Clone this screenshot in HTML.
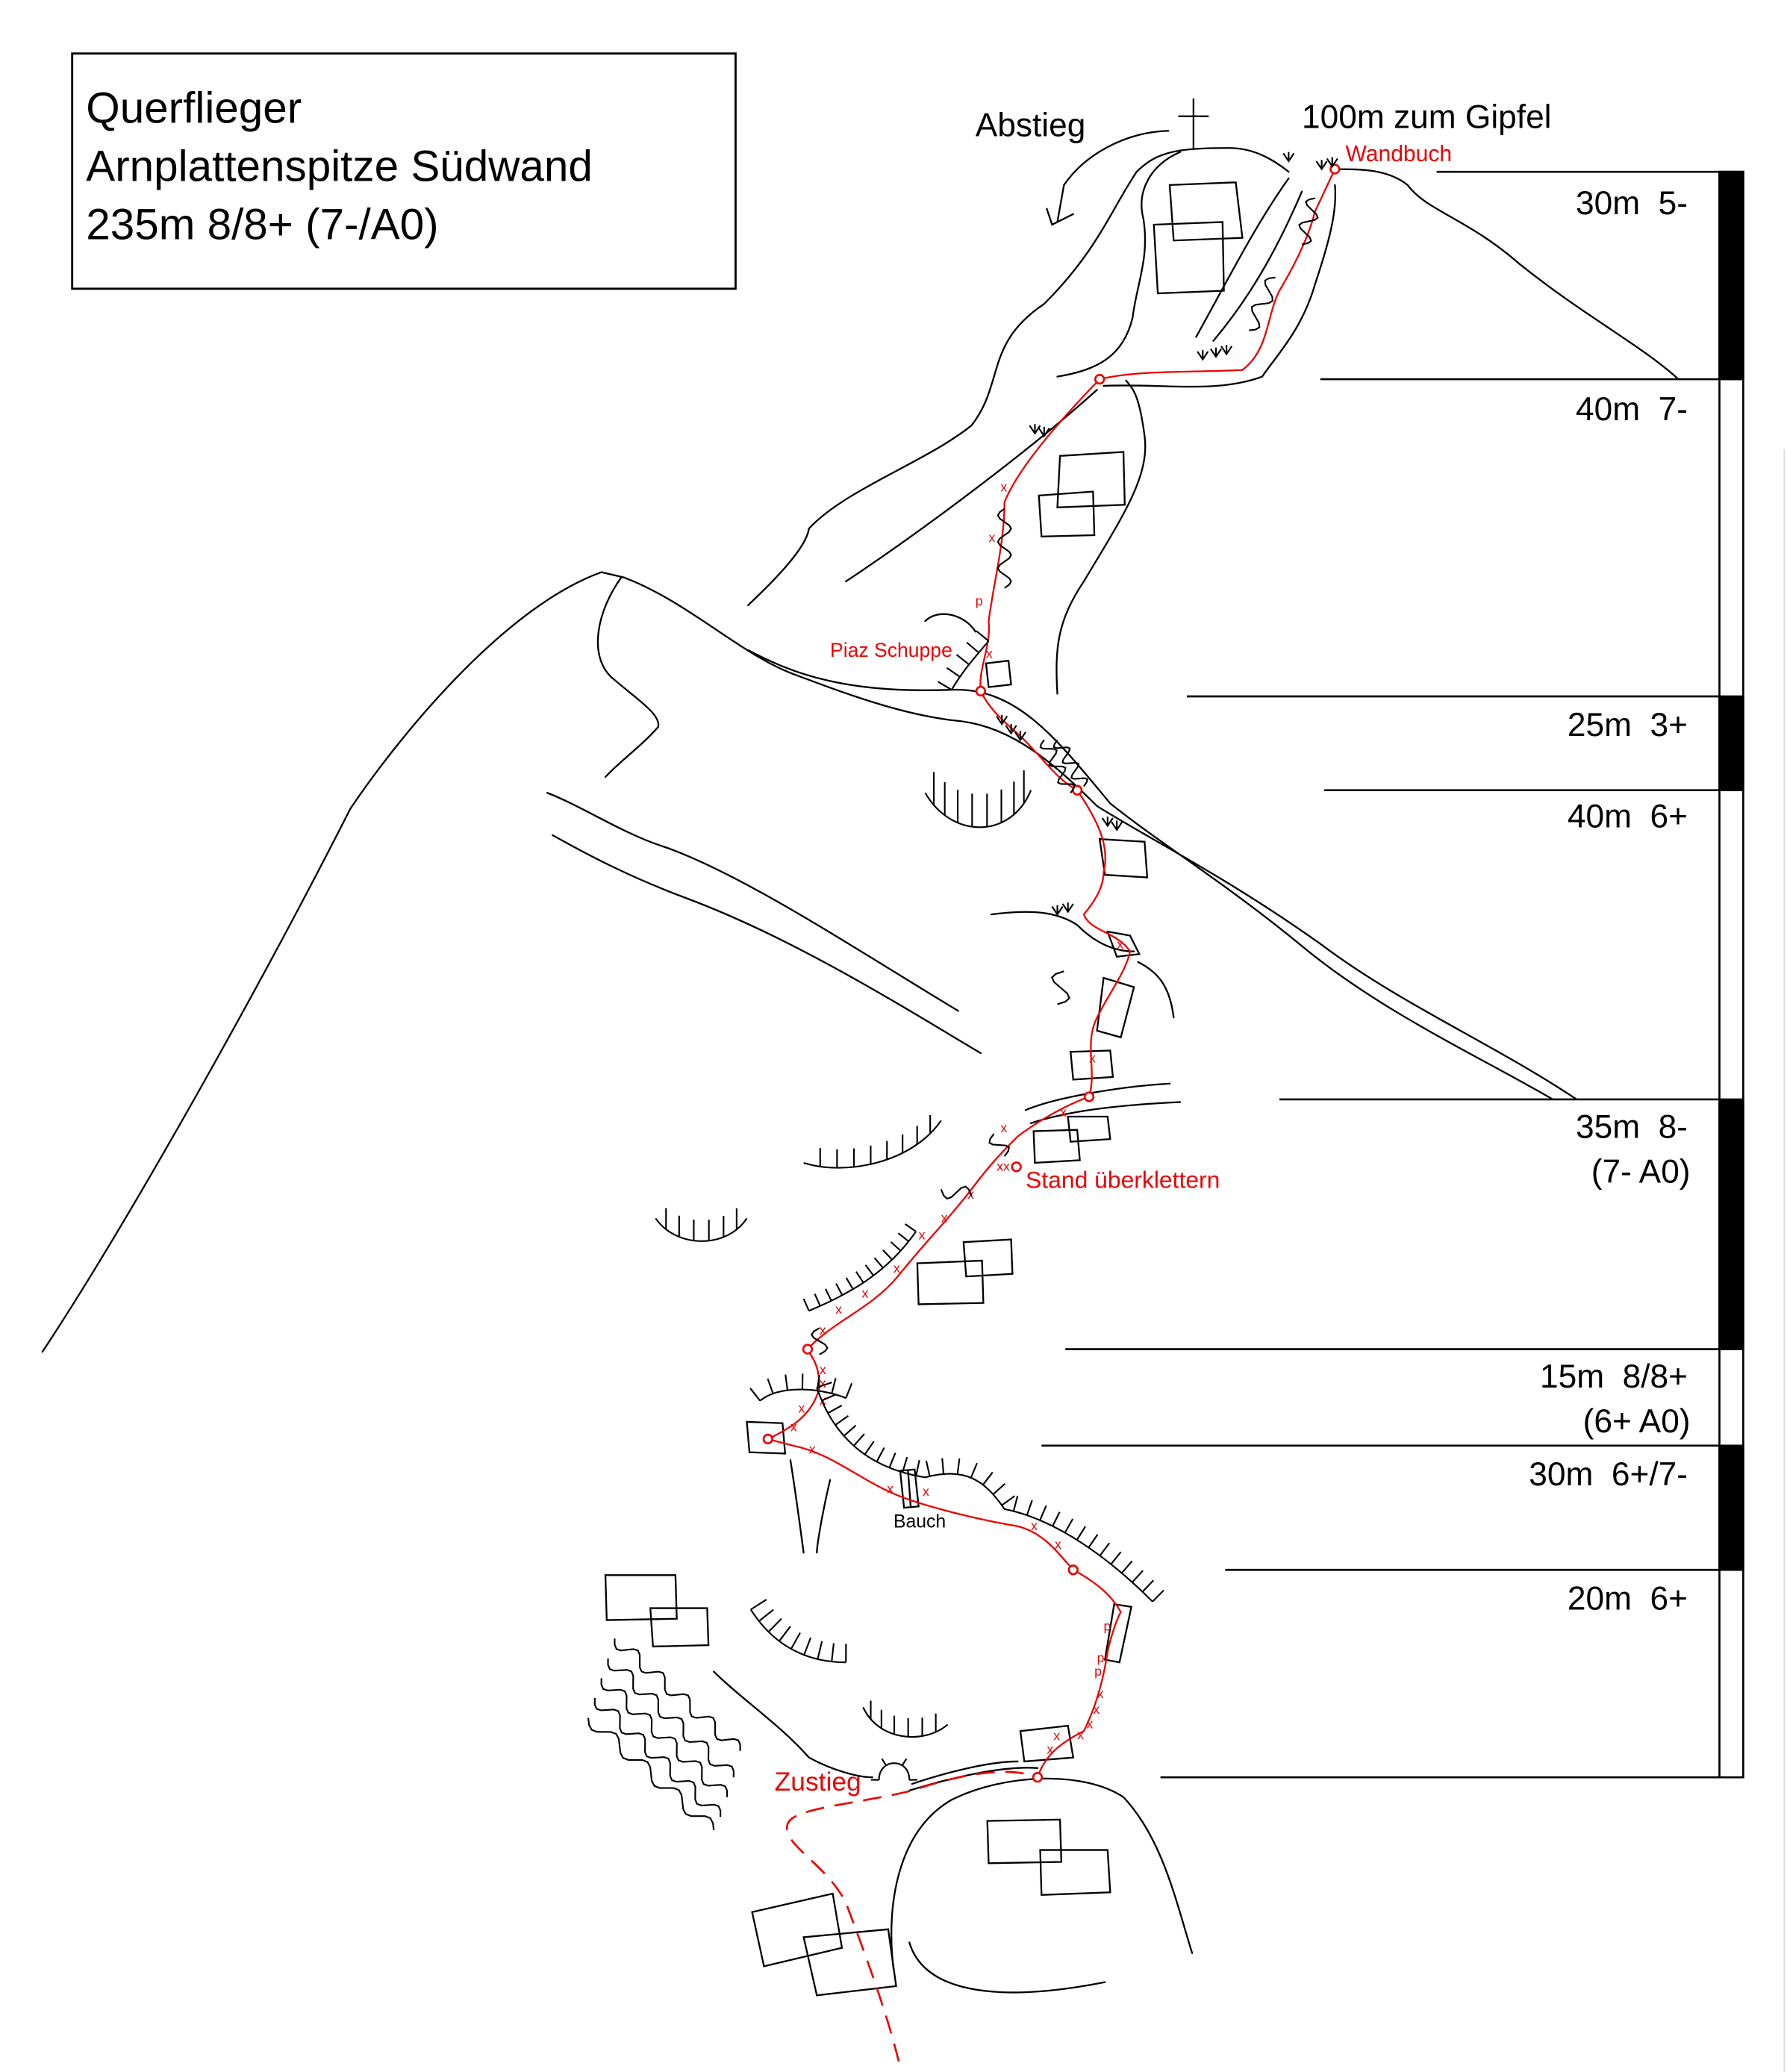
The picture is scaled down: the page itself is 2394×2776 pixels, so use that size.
<!DOCTYPE html>
<html><head><meta charset="utf-8">
<style>
html,body{margin:0;padding:0;background:#fff;}
svg{display:block;}
text{font-family:"Liberation Sans",sans-serif;white-space:pre;}
</style></head>
<body>
<svg id="s" width="2394" height="2776" viewBox="0 0 1352 1568" xmlns="http://www.w3.org/2000/svg" xml:space="preserve">
<rect width="1352" height="1568" fill="#fff"/>
<line x1="1350" y1="340" x2="1350" y2="1568" stroke="#ddd" stroke-width="1"/>
<rect x="54.5" y="40.5" width="502" height="178" fill="none" stroke="#000" stroke-width="1.6"/>
<text x="65" y="93" font-size="33">Querflieger</text>
<text x="65" y="137" font-size="33">Arnplattenspitze Südwand</text>
<text x="65" y="181" font-size="33">235m 8/8+ (7-/A0)</text>

<g stroke="#000" stroke-width="1.5">
<rect x="1301" y="130" width="18" height="1215" fill="#fff"/>
<rect x="1301" y="130" width="18" height="157" fill="#000"/>
<rect x="1301" y="527" width="18" height="71" fill="#000"/>
<rect x="1301" y="832" width="18" height="189" fill="#000"/>
<rect x="1301" y="1094" width="18" height="94" fill="#000"/>
<line x1="1087" y1="130" x2="1301" y2="130"/>
<line x1="999" y1="287" x2="1301" y2="287"/>
<line x1="898" y1="527" x2="1301" y2="527"/>
<line x1="1002" y1="598" x2="1301" y2="598"/>
<line x1="968" y1="832" x2="1301" y2="832"/>
<line x1="806" y1="1021" x2="1301" y2="1021"/>
<line x1="788" y1="1094" x2="1301" y2="1094"/>
<line x1="927" y1="1188" x2="1301" y2="1188"/>
<line x1="878" y1="1345" x2="1301" y2="1345"/>
</g>
<g font-size="25" text-anchor="end">
<text x="1277" y="162">30m  5-</text>
<text x="1277" y="318">40m  7-</text>
<text x="1277" y="557">25m  3+</text>
<text x="1277" y="626">40m  6+</text>
<text x="1277" y="861">35m  8-</text>
<text x="1279" y="895">(7- A0)</text>
<text x="1277" y="1050">15m  8/8+</text>
<text x="1279" y="1084">(6+ A0)</text>
<text x="1277" y="1124">30m  6+/7-</text>
<text x="1277" y="1218">20m  6+</text>
</g>
<text x="738" y="103" font-size="25">Abstieg</text>
<text x="985" y="97" font-size="25">100m zum Gipfel</text>
<text x="1018" y="122" font-size="17" fill="#e00">Wandbuch</text>
<text x="628" y="497" font-size="15" fill="#e00">Piaz Schuppe</text>
<text x="776" y="899" font-size="18" fill="#e00">Stand überklettern</text>
<text x="586" y="1355" font-size="20" fill="#e00">Zustieg</text>
<text x="676" y="1156" font-size="14">Bauch</text>

<g id="lines" fill="none" stroke="#000" stroke-width="1.3" stroke-linecap="round">
<path d="M32,1023 C100,920 200,740 265,612 C300,560 380,460 455,433 L472,437"/>
<path d="M470,437 C452,462 445,495 462,512 C480,528 500,540 498,550 C485,565 470,575 458,588"/>
<path d="M472,437 C520,455 560,495 600,510 C640,525 680,540 720,545 C760,548 790,570 830,610 C870,635 930,665 1000,715 C1060,760 1130,790 1193,832"/>
<path d="M566,492 C600,510 640,525 720,522 C770,520 800,560 840,608 C880,640 930,670 990,720 C1050,768 1120,800 1175,832"/>
<path d="M414,600 C440,610 470,630 500,640 C560,660 650,720 725,765"/>
<path d="M418,632 C450,650 480,665 520,680 C600,710 680,760 742,797"/>
<path d="M566,458 C585,440 610,415 612,400 C640,370 700,350 735,322 C760,290 745,260 790,230 C830,190 840,160 860,130 C875,115 890,112 930,112 C950,112 965,122 975,130"/>
<path d="M640,440 C700,400 780,340 830,295"/>
<path d="M800,525 C798,490 800,470 820,440 C850,390 870,360 866,330 C862,300 858,295 852,288"/>
<path d="M835,292 C880,290 920,298 955,285 C965,270 985,250 995,215 C1005,185 1012,160 1010,140"/>
<path d="M1010,128 C1030,128 1050,128 1065,140 C1080,160 1110,165 1150,200 C1200,240 1240,260 1270,287"/>
<path d="M893,115 C870,125 860,145 865,165 C870,195 860,215 857,240 C850,270 830,280 800,285"/>
<path d="M975,135 C950,170 930,210 905,255"/>
<path d="M985,145 C970,180 950,220 918,258"/>
<path d="M884,99 C850,100 820,118 805,140 L800,168"/>
<path d="M792,158 L796,170 L812,162"/>
<path d="M903,75 L903,112 M892,88 L914,88"/>
<path d="M885,140 L935,138 L940,180 L888,182 Z"/>
<path d="M873,170 L925,168 L926,220 L876,222 Z"/>
<path d="M802,345 L850,342 L851,382 L800,384 Z"/>
<path d="M786,375 L827,372 L828,405 L788,406 Z"/>
<path d="M746,502 L763,500 L765,518 L748,520 Z"/>
<path d="M832,635 L866,637 L868,664 L836,662 Z"/>
<path d="M810,796 L840,795 L842,815 L812,817 Z"/>
<path d="M808,845 L838,845 L840,862 L810,864 Z"/>
<path d="M782,856 L815,855 L817,878 L783,880 Z"/>
<path d="M729,940 L765,938 L766,964 L731,966 Z"/>
<path d="M694,956 L743,954 L744,986 L695,987 Z"/>
<path d="M565,1076 L592,1077 L594,1100 L567,1099 Z"/>
<path d="M681,1113 L692,1112 L695,1140 L684,1141 Z M687,1113 L689,1140"/>
<path d="M843,1214 L856,1216 L847,1258 L836,1256 Z"/>
<path d="M772,1310 L808,1306 L812,1330 L775,1333 Z"/>
<path d="M458,1192 L511,1192 L512,1225 L459,1226 Z"/>
<path d="M492,1217 L535,1217 L536,1245 L494,1246 Z"/>
<path d="M747,1378 L802,1377 L803,1409 L748,1410 Z"/>
<path d="M787,1400 L838,1400 L840,1432 L788,1434 Z"/>
<path d="M569,1447 L630,1433 L637,1474 L578,1488 Z"/>
<path d="M608,1466 L672,1460 L678,1503 L618,1510 Z"/>
<path d="M676,1490 C670,1440 680,1385 720,1362 C760,1342 820,1340 850,1360 C880,1392 890,1440 902,1478"/>
<path d="M688,1470 C700,1510 760,1515 836,1500"/>
<path d="M598,1105 C602,1130 606,1160 608,1175"/>
<path d="M628,1120 C622,1145 618,1170 618,1175"/>
<path d="M540,1265 C560,1285 590,1305 612,1330 C630,1340 650,1345 660,1345"/>
<path d="M688,1355 C720,1345 760,1336 785,1338"/>
<path d="M690,1350 C720,1340 750,1333 770,1333"/>
<path d="M776,840 C800,830 850,822 885,820"/>
<path d="M780,850 C810,840 850,836 893,834"/>
<path d="M750,692 C780,688 800,690 815,700 C830,715 845,720 858,720"/>
<path d="M700,470 C710,460 730,465 738,478"/>
<path d="M861,728 C875,735 885,745 888,770"/>
<path d="M835,740 L858,747 L848,785 L830,780 Z"/>
<path d="M838,705 L855,708 L862,722 L845,724 Z"/>
</g>
<g id="red" fill="none" stroke="#e00" stroke-width="1.3">
<path d="M785,1345 C790,1330 800,1320 820,1310 C830,1290 835,1270 838,1250 C840,1240 845,1225 848,1220 C840,1205 825,1195 812,1188 C800,1175 790,1160 770,1155 C740,1150 700,1140 680,1132 C650,1120 630,1100 600,1094 L581,1089 C600,1080 615,1070 620,1050 C620,1030 612,1025 611,1021 C630,1000 660,990 680,965 C700,940 720,920 735,900 C750,880 760,870 770,860 C790,845 810,835 824,830 C830,810 820,790 830,770 C840,750 852,735 855,720 C845,705 825,705 820,692 C830,680 835,670 835,660 C840,640 830,620 815,598 C800,590 790,575 775,560 C765,550 750,540 742,523 C740,505 750,490 748,470 C752,440 760,410 760,380 C770,355 800,320 832,287 C860,280 900,282 940,280 C960,265 958,240 968,220 C980,200 990,180 995,160 L1010,128"/>
<path d="M680,1560 C670,1520 655,1480 640,1440 C625,1410 590,1395 596,1380 C600,1368 650,1365 690,1355 C720,1345 760,1335 785,1345" stroke-dasharray="14,8" stroke-width="1.5"/>
<g fill="#fff" stroke-width="1.5">
<circle cx="785" cy="1345" r="3.3"/><circle cx="812" cy="1188" r="3.3"/><circle cx="581" cy="1089" r="3.3"/>
<circle cx="611" cy="1021" r="3.3"/><circle cx="824" cy="830" r="3.3"/><circle cx="815" cy="598" r="3.3"/>
<circle cx="742" cy="523" r="3.3"/><circle cx="832" cy="287" r="3.3"/><circle cx="1010" cy="128" r="3.3"/>
<circle cx="769" cy="883" r="3.3"/>
</g>
<g stroke="none" fill="#e00" font-size="10" font-family="Liberation Sans">
<text x="792" y="1327">x</text><text x="797" y="1317">x</text><text x="815" y="1316">x</text><text x="822" y="1308">x</text>
<text x="827" y="1297">x</text><text x="830" y="1285">x</text><text x="828" y="1268">p</text><text x="830" y="1258">p</text><text x="835" y="1234">p</text>
<text x="798" y="1172">x</text><text x="780" y="1158">x</text><text x="698" y="1132">x</text><text x="671" y="1130">x</text>
<text x="612" y="1100">x</text><text x="598" y="1083">x</text><text x="604" y="1069">x</text><text x="620" y="1063">x</text>
<text x="620" y="1050">x</text><text x="620" y="1040">x</text><text x="620" y="1010">x</text><text x="632" y="994">x</text>
<text x="652" y="982">x</text><text x="676" y="963">x</text><text x="695" y="938">x</text><text x="712" y="925">x</text>
<text x="732" y="907">x</text><text x="754" y="886">xx</text><text x="757" y="857">x</text><text x="802" y="845">x</text>
<text x="824" y="804">x</text><text x="845" y="718">x</text><text x="746" y="498">x</text><text x="738" y="458">p</text>
<text x="748" y="410">x</text><text x="757" y="372">x</text>
</g>
</g>
<g id="gen" fill="none" stroke="#000" stroke-width="1.2"></g>
</svg>
<script>
var NS="http://www.w3.org/2000/svg",g=document.getElementById('gen');
function P(d){var p=document.createElementNS(NS,'path');p.setAttribute('d',d);g.appendChild(p);return p;}
function hatch(d,n,len,side){var p=P(d);var L=p.getTotalLength();var s='';
for(var i=0;i<=n;i++){var t=L*i/n,a=p.getPointAtLength(Math.max(0,t-0.5)),b=p.getPointAtLength(Math.min(L,t+0.5)),pt=p.getPointAtLength(t);
var dx=b.x-a.x,dy=b.y-a.y,m=Math.hypot(dx,dy)||1,nx=-dy/m*side,ny=dx/m*side;s+='M'+pt.x+','+pt.y+'L'+(pt.x+nx*len)+','+(pt.y+ny*len);}P(s);}
function vhatch(d,n,len){var p=P(d);var L=p.getTotalLength();var s='';
for(var i=1;i<n;i++){var pt=p.getPointAtLength(L*i/n);s+='M'+pt.x+','+pt.y+'L'+pt.x+','+(pt.y+len);}P(s);}
vhatch('M700,600 C720,635 765,635 780,598',9,-25);
vhatch('M496,922 C512,945 550,945 565,922',7,-16);
vhatch('M608,880 C640,890 690,880 712,848',9,-14);
hatch('M612,992 C640,980 670,965 693,932',11,-10,1);
hatch('M618,1050 C628,1080 650,1110 700,1118 C730,1110 745,1120 760,1142 C800,1150 840,1180 872,1212',30,-12,1);
hatch('M575,1060 C590,1048 620,1050 640,1058',6,-12,1);
hatch('M568,1218 C585,1245 610,1258 640,1258',8,-14,1);
vhatch('M653,1292 C665,1318 700,1320 717,1305',7,-14);
hatch('M720,522 C730,505 740,495 748,485',4,-12,1);
hatch('M665,1347 C665,1330 688,1330 688,1347',3,-6,1);
function wave(x0,y0,x1,y1,n,a){var dx=x1-x0,dy=y1-y0,L=Math.hypot(dx,dy),ux=dx/L,uy=dy/L,nx=-uy,ny=ux,s='M'+x0+','+y0;
for(var i=1;i<=n*8;i++){var t=i/(n*8),ph=Math.sin(t*n*2*Math.PI)*a;s+='L'+(x0+dx*t+nx*ph)+','+(y0+dy*t+ny*ph);}P(s);}
wave(465,1240,560,1325,5,5);wave(460,1255,555,1345,5,5);wave(455,1270,550,1360,5,5);wave(450,1285,545,1375,5,5);wave(445,1300,540,1385,4,5);
wave(760,385,760,445,3,5);wave(995,150,985,185,2,6);wave(965,210,945,250,2,6);
wave(790,560,810,600,3,5);wave(800,560,820,595,3,5);wave(805,735,800,760,1,8);wave(620,1005,620,1025,1,6);
wave(712,900,735,905,1,6);wave(752,858,760,875,1,6);
function tuft(x,y){P('M'+(x-4)+','+(y-6)+'L'+x+','+y+'L'+(x+4)+','+(y-6)+'M'+x+','+y+'L'+x+','+(y-7));}
[[1000,128],[1008,126],[910,272],[920,270],[928,268],[783,328],[790,330],[758,548],[765,555],[772,560],[838,625],[845,628],[800,692],[808,690],[975,122]].forEach(function(p){tuft(p[0],p[1]);});
</script>
</body></html>
